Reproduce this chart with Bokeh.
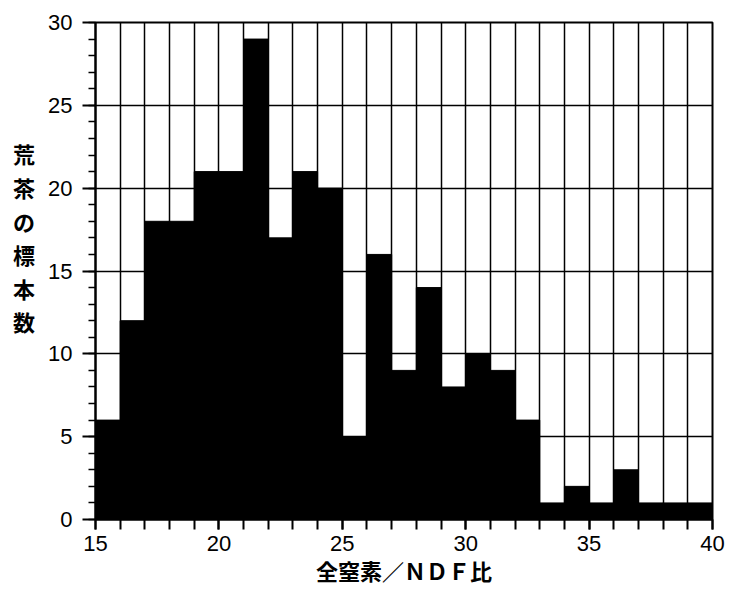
from bokeh.plotting import figure
from bokeh.models import SingleIntervalTicker, Range1d, ColumnDataSource
from bokeh.embed import file_html
from bokeh.resources import INLINE

# data: bin left edges (total N / NDF ratio) and sample counts
bin_left = [15, 16, 17, 18, 19, 20, 21, 22, 23, 24, 25, 26, 27,
            28, 29, 30, 31, 32, 33, 34, 35, 36, 37, 38, 39]
counts = [6, 12, 18, 18, 21, 21, 29, 17, 21, 20, 5, 16, 9,
          14, 8, 10, 9, 6, 1, 2, 1, 3, 1, 1, 1]
bin_width = 1
x_label = "全窒素／ＮＤＦ比"
y_label_chars = ["荒", "茶", "の", "標", "本", "数"]

src = ColumnDataSource(dict(
    left=bin_left,
    right=[b + bin_width for b in bin_left],
    top=counts,
    bottom=[0] * len(counts),
))

p = figure(frame_width=617, frame_height=497, output_backend="svg",
           toolbar_location=None,
           x_range=Range1d(15, 40), y_range=Range1d(0, 30),
           min_border_left=95, min_border_right=18, min_border_top=22,
           min_border_bottom=40)
p.background_fill_color = "white"
p.border_fill_color = "white"
p.outline_line_color = "black"
p.outline_line_width = 2

p.quad(left="left", right="right", top="top", bottom="bottom", source=src,
       fill_color="black", line_color="black", line_width=1)

# x axis
p.xaxis.ticker = SingleIntervalTicker(interval=5, num_minor_ticks=5)
p.xaxis.axis_line_width = 2
p.xaxis.major_tick_out = 10
p.xaxis.major_tick_in = 0
p.xaxis.minor_tick_out = 10
p.xaxis.minor_tick_in = 0
p.xaxis.major_tick_line_width = 2
p.xaxis.minor_tick_line_width = 2
p.xaxis.major_label_standoff = 6
p.xaxis.major_label_text_font = "Liberation Sans"
p.xaxis.major_label_text_font_size = "22px"
p.xaxis.major_label_text_color = "black"
p.xaxis.axis_label = x_label
p.xaxis.axis_label_text_font = "Noto Sans CJK JP"
p.xaxis.axis_label_text_font_style = "bold"
p.xaxis.axis_label_text_font_size = "22px"
p.xaxis.axis_label_text_color = "black"
p.xaxis.axis_label_text_line_height = 1.0
p.xaxis.axis_label_standoff = 0

# y axis
p.yaxis.ticker = SingleIntervalTicker(interval=5, num_minor_ticks=5)
p.yaxis.axis_line_width = 2
p.yaxis.major_tick_out = 13
p.yaxis.major_tick_in = 0
p.yaxis.minor_tick_out = 7
p.yaxis.minor_tick_in = 0
p.yaxis.major_tick_line_width = 2
p.yaxis.minor_tick_line_width = 1.5
p.yaxis.major_label_standoff = 10
p.yaxis.major_label_text_font = "Liberation Sans"
p.yaxis.major_label_text_font_size = "22px"
p.yaxis.major_label_text_color = "black"
# stacked vertical title; two blank ideographic-space lines lift it upward
p.yaxis.axis_label = "\n".join(y_label_chars + ["\u3000", "\u3000"])
p.yaxis.axis_label_orientation = "horizontal"
p.yaxis.axis_label_text_font = "Noto Sans CJK JP"
p.yaxis.axis_label_text_font_style = "bold"
p.yaxis.axis_label_text_font_size = "22px"
p.yaxis.axis_label_text_color = "black"
p.yaxis.axis_label_text_line_height = 1.05
p.yaxis.axis_label_standoff = 10

# grids
p.xgrid.ticker = SingleIntervalTicker(interval=1)
p.xgrid.grid_line_color = "black"
p.xgrid.grid_line_width = 1.5
p.xgrid.grid_line_alpha = 1.0
p.ygrid.ticker = SingleIntervalTicker(interval=5)
p.ygrid.grid_line_color = "black"
p.ygrid.grid_line_width = 1.5
p.ygrid.grid_line_alpha = 1.0

open("out.html", "w").write(file_html(p, INLINE))
